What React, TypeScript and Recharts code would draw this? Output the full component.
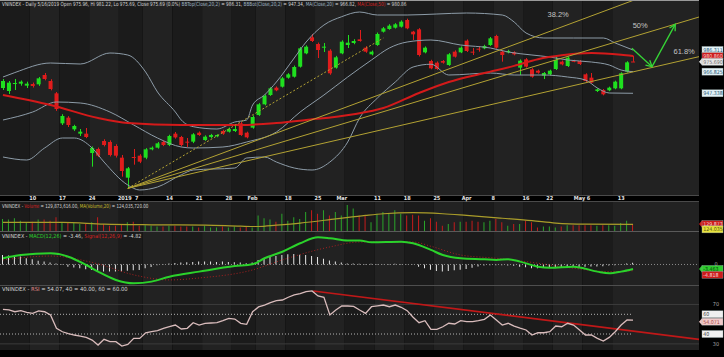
import React from "react";
import {
  ComposedChart,
  Bar,
  Line,
  XAxis,
  YAxis,
  ReferenceLine,
  ReferenceArea,
  ReferenceDot,
  Cell,
} from "recharts";

// ---- data ----

// open, high, low, close per session (Dec 2018 - 16 May 2019)
const OHLC: [number, number, number, number][] = [
  [952.1, 960.2, 950.3, 958.4], [949.4, 958.4, 946.7, 956.9], [955.7, 960.2, 950.3, 956.6], [956.0, 958.9, 954.2, 957.8],
  [954.2, 957.8, 952.1, 956.0], [955.7, 957.0, 952.5, 953.9], [955.4, 962.0, 954.0, 960.8], [963.8, 965.6, 959.0, 960.2],
  [958.4, 960.0, 950.0, 951.2], [947.3, 948.5, 931.5, 933.2], [920.3, 928.5, 918.8, 926.9], [925.4, 926.8, 917.0, 918.8],
  [914.9, 919.0, 913.5, 917.9], [911.0, 915.2, 908.9, 912.8], [911.0, 916.1, 907.0, 908.0], [893.6, 899.5, 881.3, 898.1],
  [897.2, 898.5, 890.0, 891.2], [904.4, 906.0, 899.5, 900.8], [903.5, 905.0, 890.5, 891.8], [899.9, 901.5, 889.5, 891.2],
  [889.4, 891.8, 872.3, 877.4], [871.4, 881.0, 861.8, 879.8], [890.0, 897.2, 883.1, 889.1], [891.2, 892.5, 884.5, 885.8],
  [889.4, 898.0, 888.0, 896.9], [896.9, 899.5, 896.0, 898.4], [898.4, 903.5, 897.5, 902.3], [903.5, 905.0, 899.8, 900.8],
  [900.8, 910.0, 899.8, 908.9], [911.0, 912.5, 906.5, 907.6], [908.0, 909.0, 899.5, 900.8], [903.8, 907.1, 899.0, 902.9],
  [903.8, 911.5, 902.5, 910.4], [911.9, 913.0, 909.0, 909.8], [905.3, 909.5, 904.5, 908.3], [908.0, 910.8, 907.0, 909.8],
  [908.6, 910.5, 907.8, 909.8], [913.4, 914.5, 910.0, 911.0], [912.8, 916.5, 912.0, 915.2], [913.4, 918.8, 912.5, 915.2],
  [920.3, 921.5, 909.0, 909.8], [911.9, 912.8, 906.8, 907.7], [916.4, 927.5, 915.5, 926.0], [927.8, 938.5, 927.0, 937.4],
  [937.4, 946.2, 936.5, 945.2], [945.8, 952.8, 945.0, 951.8], [952.4, 953.5, 949.2, 950.0], [953.3, 962.0, 952.5, 960.8],
  [961.4, 965.5, 960.5, 964.4], [962.3, 972.3, 961.5, 971.0], [971.3, 989.0, 970.5, 987.8], [983.3, 990.5, 982.5, 989.3],
  [997.7, 1000.7, 993.5, 994.4], [991.7, 993.0, 979.1, 986.3], [988.7, 992.6, 984.5, 989.3], [985.7, 987.0, 964.0, 965.3],
  [970.4, 981.0, 969.5, 979.7], [983.3, 995.0, 982.5, 993.8], [990.8, 999.8, 988.1, 992.9], [992.6, 996.0, 991.5, 994.4],
  [995.9, 1004.3, 993.8, 994.4], [988.4, 989.8, 983.8, 984.8], [982.4, 985.8, 981.5, 984.8], [990.8, 1002.0, 990.0, 1000.7],
  [1002.8, 1007.0, 1002.0, 1005.8], [1005.2, 1009.5, 1004.5, 1008.2], [1006.4, 1010.5, 1005.6, 1009.4], [1007.3, 1013.0, 1006.5, 1011.8],
  [1013.3, 1014.5, 1005.0, 1005.8], [1002.8, 1003.5, 995.3, 1000.4], [1004.9, 1006.0, 980.5, 981.8], [984.2, 989.5, 983.3, 988.4],
  [976.4, 977.5, 969.0, 969.8], [974.9, 976.0, 968.4, 969.2], [976.4, 977.3, 974.0, 974.9], [972.8, 983.5, 972.0, 982.4],
  [984.8, 986.0, 979.5, 980.3], [984.2, 989.5, 983.5, 988.4], [994.7, 995.8, 984.5, 985.4], [984.8, 988.1, 981.8, 984.2],
  [987.5, 989.3, 984.8, 986.9], [987.8, 991.0, 987.0, 989.9], [990.8, 998.0, 990.0, 996.8], [998.9, 1000.0, 987.5, 988.4],
  [984.8, 985.7, 975.8, 981.8], [984.2, 986.5, 983.3, 985.4], [984.2, 985.2, 981.5, 982.4], [970.4, 977.8, 963.8, 976.7],
  [977.9, 979.0, 970.5, 971.3], [968.9, 970.0, 961.4, 962.3], [967.7, 968.6, 965.0, 965.9], [963.2, 966.5, 960.2, 965.6],
  [964.4, 968.6, 963.5, 967.7], [969.2, 980.0, 968.3, 977.3], [975.8, 976.8, 972.5, 973.4], [971.9, 980.5, 971.0, 979.4],
  [976.6, 977.5, 975.3, 976.0], [976.4, 977.3, 972.8, 973.7], [964.4, 965.3, 957.5, 958.4], [961.4, 965.6, 956.0, 956.9],
  [949.4, 951.8, 948.5, 950.9], [950.3, 951.2, 945.5, 946.4], [950.0, 953.3, 949.2, 952.4], [951.8, 958.7, 951.0, 957.8],
  [951.8, 966.2, 951.0, 965.3], [966.8, 976.2, 966.0, 975.2], [975.96, 981.22, 975.69, 975.69],
];

// volume, millions of shares
const VOLUME = [
  226, 213, 239, 194, 162, 174, 213, 213, 194, 259, 162, 162, 149, 129, 129, 162, 259, 129, 97, 97,
  129, 162, 174, 97, 110, 97, 84, 84, 97, 97, 84, 84, 84, 65, 97, 65, 65, 84, 65, 84,
  65, 84, 65, 291, 239, 213, 174, 323, 194, 259, 226, 356, 388, 323, 388, 291, 356, 291, 485, 420,
  291, 291, 162, 323, 356, 323, 388, 323, 291, 304, 291, 194, 239, 174, 97, 129, 162, 174, 174, 194,
  174, 162, 194, 226, 162, 97, 129, 129, 194, 162, 65, 84, 84, 65, 84, 110, 110, 110, 110, 110,
  97, 110, 110, 97, 149, 194, 129.87,
];

const MACD_HIST = [
  7.3, 7.0, 7.3, 6.1, 4.8, 4.0, 2.9, 2.2, 1.6, 0.8, 0.3, -1.7, -2.3, -2.9, -3.7, -4.2, -4.8, -5.5, -5.5, -5.5,
  -5.5, -4.8, -4.5, -4.2, -2.9, -2.0, -0.5, 0.3, 0.8, 1.2, 1.5, 1.8, 2.0, 2.2, 2.2, 2.2, 2.0, 2.2, 2.0, 1.8,
  1.5, 1.0, 1.5, 3.5, 4.8, 6.0, 6.6, 7.3, 7.8, 8.0, 7.5, 7.3, 6.6, 5.8, 4.5, 3.0, 2.2, 1.6, 0.8, 0.8,
  0.5, 0.3, 0.5, 0.3, 0.2, 0.3, 0.5, 0.3, 0.2, 0.1, -1.7, -3.0, -4.0, -5.0, -5.5, -5.0, -4.5, -4.0, -3.5, -2.5,
  -1.5, -0.8, -0.6, -0.6, -0.6, -0.8, -1.0, -1.7, -2.1, -2.9, -2.9, -2.5, -2.1, -1.9, -1.9, -2.1, -1.9, -1.9, -1.7, -1.5,
  -1.5, -1.3, -0.8, -0.5, 0.2, 0.8, 1.36,
];

const RSI = [
  65.1, 64.4, 62.6, 63.7, 62.0, 61.0, 63.4, 62.6, 59.3, 45.8, 42.3, 40.5, 39.0, 37.8, 36.5, 33.9, 28.8, 34.6, 32.2, 32.2,
  27.8, 29.5, 35.6, 35.6, 41.3, 42.5, 43.4, 45.8, 47.4, 49.1, 45.1, 45.8, 51.5, 49.1, 50.9, 51.2, 51.5, 53.5, 55.9, 55.2,
  50.9, 49.8, 62.6, 67.5, 69.4, 71.8, 73.8, 74.5, 77.3, 79.6, 81.0, 82.9, 83.7, 78.6, 77.3, 59.3, 64.4, 68.4, 68.4, 68.0,
  64.4, 61.0, 67.7, 68.5, 69.4, 67.7, 69.4, 67.1, 63.7, 57.0, 51.5, 53.5, 44.8, 44.8, 47.4, 50.9, 50.2, 53.5, 52.5, 52.5,
  53.5, 54.9, 59.3, 54.2, 49.1, 50.9, 48.1, 46.0, 44.1, 39.0, 41.3, 41.3, 42.3, 48.1, 47.4, 50.9, 49.1, 44.1, 39.0, 39.0,
  35.6, 32.9, 36.6, 42.3, 49.1, 54.2, 54.07,
];

// [session index, value] readings along the smooth indicator curves
const BB_UPPER = [
  [0, 962], [2, 966], [8, 974.6], [13, 973.7], [18, 983.6], [21, 981.8], [24, 966.5], [26, 948.5], [29, 930.5], [30, 923.3],
  [32, 917.3], [36, 915.2], [39, 921.5], [41, 923.3], [42, 936.8], [44, 945.8], [46, 957.5], [49, 979.1], [51, 993.5], [54, 1008.8],
  [57, 1016.3], [60, 1020.5], [63, 1017.8], [68, 1017.8], [73, 1018.7], [78, 1019.6], [84, 1017.8], [86, 1011.5], [88, 1001.6],
  [91, 997.1], [96, 997.1], [101, 997.1], [103, 992.6], [106, 986.31],
];
const BB_MID = [
  [0, 923.3], [5, 930.5], [9, 939.5], [13, 938.6], [18, 930.5], [22, 918.8], [26, 907.1], [30, 899.0], [32, 898.1], [37, 899.0],
  [41, 903.5], [46, 912.5], [50, 930.5], [54, 945.8], [58, 962.0], [62, 977.3], [65, 988.1], [68, 993.5], [72, 995.3], [77, 990.8],
  [82, 988.1], [85, 984.5], [89, 981.8], [92, 980.0], [95, 977.3], [99, 975.5], [102, 972.8], [104, 968.3], [106, 966.82],
];
const BB_LOWER = [
  [0, 890.0], [4, 887.3], [7, 898.1], [10, 907.1], [12, 907.1], [15, 898.1], [17, 885.5], [21, 864.8], [23, 860.3], [26, 863.0],
  [30, 874.0], [32, 878.3], [39, 880.1], [41, 889.1], [44, 890.0], [46, 885.5], [49, 880.1], [52, 878.3], [55, 885.5], [58, 903.5],
  [60, 925.1], [63, 943.1], [66, 957.5], [69, 971.0], [72, 973.5], [75, 963.8], [82, 965.6], [86, 963.8], [91, 963.8], [95, 962.0],
  [98, 959.3], [100, 952.1], [102, 947.6], [106, 947.34],
];
const MA50 = [
  [0, 945.8], [8, 936.8], [16, 925.1], [21, 920.6], [30, 918.8], [40, 918.8], [46, 920.6], [51, 923.3], [59, 928.5], [64, 934.1],
  [70, 947.6], [75, 957.5], [81, 965.6], [86, 972.0], [90, 978.0], [94, 981.5], [99, 983.5], [104, 982.0], [106, 980.86],
];
const VOL_MA = [
  [0, 162], [10, 160], [17, 129], [25, 116], [34, 110], [40, 90], [43, 84], [46, 110], [50, 149], [56, 226],
  [61, 291], [64, 323], [69, 343], [74, 323], [78, 291], [84, 239], [89, 194], [93, 149], [98, 129], [106, 124.04],
];
const MACD_LINE = [
  [0, 4.8], [3, 7.3], [8, 8.6], [11, 6.0], [14, -0.4], [16, -5.5], [19, -11.9], [22, -14.5], [25, -13.2], [28, -9.4],
  [33, -5.5], [39, -1.2], [42, 0.2], [44, 4.8], [47, 9.8], [50, 16.3], [53, 20.9], [55, 20.2], [58, 18.5], [60, 18.5],
  [62, 17.1], [67, 17.5], [69, 16.3], [72, 11.2], [74, 7.3], [77, 4.8], [81, 4.0], [83, 3.5], [85, 4.0], [87, 2.2],
  [90, -1.7], [92, -2.5], [96, -1.7], [100, -5.5], [102, -6.8], [104, -5.5], [106, -3.46],
];
const MACD_SIGNAL = [
  [0, 3.5], [8, 6.5], [16, 0.4], [22, -8.0], [28, -11.9], [33, -10.4], [42, -4.2], [47, 3.5], [55, 13.5], [60, 17.3],
  [69, 17.3], [72, 14.0], [77, 7.3], [83, 4.8], [88, 2.2], [96, -2.9], [102, -5.5], [106, -4.82],
];

// date axis
const DATE_TICKS = [5, 10, 15, 20.5, 22.5, 28, 33, 38, 42, 48, 53, 57, 63, 68, 73, 78, 82.5, 88, 92, 97, 98.5, 104];
const DATE_LABELS = ["10", "17", "24", "2019", "7", "14", "21", "28", "Feb", "18", "25", "Mar", "11", "18", "25", "Apr", "8", "16", "22", "May", "6", "13"];
const WEEK_EDGES = [-0.5, 4.5, 9.5, 14.5, 19.5, 23.5, 28.5, 33.5, 38.5, 42.5, 47.5, 52.5, 57.5, 62.5, 67.5, 72.5, 77.5, 82.5, 87.5, 92.5, 97.5, 102.5, 117.1];

// fan drawn from the January low
const FAN_ORIGIN = [21, 861.8];
const FAN_ENDS = [[117.1, 1053.0], [117.1, 1016.0], [117.1, 980.3]];
const FAN_DOTTED_END = [64, 997.1];
const FAN_LABELS = ["38.2%", "50%", "61.8%"];
const FAN_LABEL_AT = [[93.4, 1018.4], [107.2, 1008.2], [114.6, 984.8]];
const ARROW_PATH = [[105.8, 987.8], [109.2, 971.3], [113.1, 1009.4]];
const RSI_TREND = [[52.2, 83.7], [117.1, 34.6]];

// right-edge value tags
const PRICE_TAGS = [986.311, 980.86, 975.69, 966.825, 947.338];
const PRICE_TAG_TEXT = ["986.311", "980.860", "975.690", "966.825", "947.338"];
const VOL_TAGS = [129.87, 124.04];
const VOL_TAG_TEXT = ["129.873", "124.035"];
const MACD_TAGS = [0, -3.46, -4.82];
const MACD_TAG_TEXT = ["0", "-3.463", "-4.818"];
const RSI_TAGS = [70, 60, 54.07, 40, 30];
const RSI_TAG_TEXT = ["70", "60", "54.071", "40", "30"];

// ---- styling ----
const W = 724;
const AXIS_W = 25;
const X_DOMAIN: [number, number] = [-0.5, 117.1];
const X_END = 117.1;
const GREEN = "#1fe01f";
const RED = "#e01c1c";
const PANEL = "#1b1b1b";
const PANEL_ALT = "#222222";
const BAND_LINE = "#8d9ca8";
const FAN = "#b3a233";
const TXT = "#d4d4d4";
const FONT = '"Liberation Sans Narrow", "DejaVu Sans Condensed", Arial, sans-serif';

const TAG_STYLE: Record<string, { bg: string; fg: string; arrow: boolean; dy: number }> = {
  band: { bg: "#e2f1f6", fg: "#2b5b78", arrow: false, dy: 0 },
  ma50: { bg: "#cc1b1b", fg: "#f4c4c4", arrow: false, dy: 0 },
  last: { bg: "#e6e6e6", fg: "#707070", arrow: true, dy: 0 },
  vol: { bg: "#cc1b1b", fg: "#f6d0d0", arrow: true, dy: 0 },
  volma: { bg: "#e8e23a", fg: "#505010", arrow: false, dy: 5 },
  macd: { bg: "#2ecc2e", fg: "#0b3d0b", arrow: true, dy: 0 },
  signal: { bg: "#cc1b1b", fg: "#f6d0d0", arrow: false, dy: 4 },
  level: { bg: "#f0f0f0", fg: "#404040", arrow: false, dy: 0 },
  rsi: { bg: "#f2c9c9", fg: "#a04848", arrow: true, dy: 1.5 },
  plain: { bg: "none", fg: "#a8a8a8", arrow: false, dy: 0 },
};
const PRICE_TAG_KIND = ["band", "ma50", "last", "band", "band"];
const VOL_TAG_KIND = ["vol", "volma"];
const MACD_TAG_KIND = ["plain", "macd", "signal"];
const RSI_TAG_KIND = ["plain", "level", "rsi", "level", "plain"];

const rows = OHLC.map(([open, high, low, close], i) => ({
  i,
  open,
  high,
  low,
  close,
  range: [low, high],
  vol: VOLUME[i],
  hist: MACD_HIST[i],
  rsi: RSI[i],
}));
const pts = (a: number[][]) => a.map(([i, v]) => ({ i, v }));

function Candle(props: any) {
  const { x, y, width, height, payload } = props;
  if (!payload || height == null) return null;
  const { open, high, low, close } = payload;
  const color = close >= open ? GREEN : RED;
  const k = high > low ? height / (high - low) : 0;
  const yo = y + (high - open) * k;
  const yc = y + (high - close) * k;
  const mid = Math.round(x + width / 2) + 0.5;
  return (
    <g>
      <line x1={mid} x2={mid} y1={y} y2={y + height} stroke={color} strokeWidth={1} />
      <rect x={x} y={Math.min(yo, yc)} width={width} height={Math.max(1, Math.abs(yo - yc))} fill={color} />
    </g>
  );
}

function Arrow(props: any) {
  const { x1, y1, x2, y2 } = props;
  const a = Math.atan2(y2 - y1, x2 - x1);
  const L = 6;
  const S = 3.2;
  const p1 = [x2 - L * Math.cos(a) + S * Math.sin(a), y2 - L * Math.sin(a) - S * Math.cos(a)];
  const p2 = [x2 - L * Math.cos(a) - S * Math.sin(a), y2 - L * Math.sin(a) + S * Math.cos(a)];
  return (
    <g stroke="#36d636" strokeWidth={1.3} fill="none">
      <line x1={x1} y1={y1} x2={x2} y2={y2} />
      <polyline points={`${p1[0]},${p1[1]} ${x2},${y2} ${p2[0]},${p2[1]}`} />
    </g>
  );
}

function Tag({ cx, cy, text, kind }: { cx: number; cy: number; text: string; kind: string }) {
  const s = TAG_STYLE[kind];
  const y = cy + s.dy;
  const x0 = cx + 3;
  if (s.bg === "none") {
    return (
      <text x={x0 + 14} y={y + 2} fontSize={5.5} fill={s.fg} fontFamily={FONT} textAnchor="middle">
        {text}
      </text>
    );
  }
  return (
    <g>
      {s.arrow && <polygon points={`${cx},${y} ${x0},${y - 3.5} ${x0},${y + 3.5}`} fill={s.bg} />}
      <rect x={x0} y={y - 3.5} width={21} height={7} fill={s.bg} stroke="#9aa" strokeWidth={0.4} />
      <text x={x0 + 1.2} y={y + 2} fontSize={5.3} fill={s.fg} fontFamily={FONT}>
        {text}
      </text>
    </g>
  );
}

const bands = WEEK_EDGES.slice(0, -1).map((x1, k) => ({ x1, x2: WEEK_EDGES[k + 1], fill: k % 2 ? PANEL_ALT : PANEL }));

function renderBands(prefix: string) {
  return bands.map((b, k) => (
    <ReferenceArea key={`${prefix}-band-${k}`} x1={b.x1} x2={b.x2} fill={b.fill} fillOpacity={1} stroke="none" ifOverflow="hidden" />
  ));
}

function renderTags(prefix: string, values: number[], texts: string[], kinds: string[]) {
  return values.map((v, k) => (
    <ReferenceDot
      key={`${prefix}-tag-${k}`}
      x={X_END}
      y={v}
      ifOverflow="visible"
      shape={(p: any) => <Tag cx={p.cx} cy={p.cy} text={texts[k]} kind={kinds[k]} />}
    />
  ));
}

const dateLabel = (v: number) => {
  const k = DATE_TICKS.indexOf(v);
  return k >= 0 ? DATE_LABELS[k] : "";
};

function Title({ x, y, sx, children }: { x: number; y: number; sx: number; children: React.ReactNode }) {
  return (
    <g transform={`translate(${x},${y}) scale(${sx},1)`}>
      <text x={0} y={0} fontFamily={FONT} fontSize={5.6} fill={TXT}>
        {children}
      </text>
    </g>
  );
}

export default function App() {
  const margin = { top: 0, right: AXIS_W, bottom: 0, left: 0 };
  const lineProps = { dot: false, activeDot: false, isAnimationActive: false };
  return (
    <div style={{ position: "absolute", left: 0, top: 0, width: W, height: 357, background: "#000", overflow: "hidden" }}>
      {/* date strip */}
      <div style={{ position: "absolute", left: 0, top: 195, width: 699, height: 5, borderTop: "1px solid #4a4a4a", borderBottom: "1px solid #4a4a4a" }} />
      <div style={{ position: "absolute", left: 0, top: 231, width: 699, height: 1, background: "#5a5a5a" }} />
      <div style={{ position: "absolute", left: 0, top: 285, width: 699, height: 1, background: "#4e4e4e" }} />

      {/* price panel */}
      <div style={{ position: "absolute", left: 0, top: 0 }}>
        <ComposedChart width={W} height={202} data={rows} margin={margin}>
          <XAxis
            dataKey="i"
            type="number"
            domain={X_DOMAIN}
            allowDataOverflow
            ticks={DATE_TICKS}
            interval={0}
            tickFormatter={dateLabel}
            height={7}
            tickSize={0}
            tickMargin={1}
            tickLine={false}
            axisLine={false}
            tick={{ fontSize: 5.5, fill: "#e4e4e4", fontFamily: FONT, fontWeight: 700 }}
          />
          <YAxis type="number" domain={[855.8, 1031.3]} allowDataOverflow hide />
          {renderBands("p")}
          <Line data={pts(BB_UPPER)} dataKey="v" type="monotone" stroke={BAND_LINE} strokeWidth={1} {...lineProps} />
          <Line data={pts(BB_MID)} dataKey="v" type="monotone" stroke={BAND_LINE} strokeWidth={1} {...lineProps} />
          <Line data={pts(BB_LOWER)} dataKey="v" type="monotone" stroke={BAND_LINE} strokeWidth={1} {...lineProps} />
          <Line data={pts(MA50)} dataKey="v" type="monotone" stroke="#d41a1a" strokeWidth={2} {...lineProps} />
          {FAN_ENDS.map((e, k) => (
            <ReferenceLine
              key={`fan-${k}`}
              segment={[{ x: FAN_ORIGIN[0], y: FAN_ORIGIN[1] }, { x: e[0], y: e[1] }]}
              stroke={FAN}
              strokeWidth={1}
              ifOverflow="hidden"
            />
          ))}
          <ReferenceLine
            segment={[{ x: FAN_ORIGIN[0], y: FAN_ORIGIN[1] }, { x: FAN_DOTTED_END[0], y: FAN_DOTTED_END[1] }]}
            stroke={FAN}
            strokeDasharray="2 2"
            ifOverflow="hidden"
          />
          <Bar dataKey="range" barSize={4} shape={<Candle />} isAnimationActive={false} activeBar={false} />
          {ARROW_PATH.slice(0, -1).map((p, k) => (
            <ReferenceLine
              key={`arrow-${k}`}
              segment={[{ x: p[0], y: p[1] }, { x: ARROW_PATH[k + 1][0], y: ARROW_PATH[k + 1][1] }]}
              ifOverflow="visible"
              shape={(lp: any) => <Arrow {...lp} />}
            />
          ))}
          {FAN_LABELS.map((t, k) => (
            <ReferenceDot
              key={`fanlabel-${k}`}
              x={FAN_LABEL_AT[k][0]}
              y={FAN_LABEL_AT[k][1]}
              ifOverflow="visible"
              shape={(p: any) => (
                <text x={p.cx} y={p.cy + 2.5} fontSize={7.5} fill="#c4c4c4" textAnchor="middle" fontFamily="Arial, sans-serif">
                  {t}
                </text>
              )}
            />
          ))}
          {renderTags("p", PRICE_TAGS, PRICE_TAG_TEXT, PRICE_TAG_KIND)}
        </ComposedChart>
      </div>

      {/* volume panel (svg 2px taller than the plot so the lower tag fits) */}
      <div style={{ position: "absolute", left: 0, top: 202 }}>
        <ComposedChart width={W} height={32} data={rows} margin={{ ...margin, bottom: 3 }}>
          <XAxis dataKey="i" type="number" domain={X_DOMAIN} allowDataOverflow hide />
          <YAxis type="number" domain={[0, 543]} allowDataOverflow hide />
          {renderBands("v")}
          <Bar dataKey="vol" barSize={1} isAnimationActive={false} activeBar={false}>
            {rows.map((r) => (
              <Cell key={`vc-${r.i}`} fill={r.close >= r.open ? "#2aa52a" : "#c41c1c"} />
            ))}
          </Bar>
          <Line data={pts(VOL_MA)} dataKey="v" type="monotone" stroke="#aa9d2a" strokeWidth={1.2} {...lineProps} />
          {renderTags("v", VOL_TAGS, VOL_TAG_TEXT, VOL_TAG_KIND)}
        </ComposedChart>
      </div>

      {/* MACD panel */}
      <div style={{ position: "absolute", left: 0, top: 232 }}>
        <ComposedChart width={W} height={53} data={rows} margin={margin}>
          <XAxis dataKey="i" type="number" domain={X_DOMAIN} allowDataOverflow hide />
          <YAxis type="number" domain={[-15.8, 25]} allowDataOverflow hide />
          {renderBands("m")}
          <ReferenceLine y={0} stroke="#8a8a8a" strokeDasharray="1 2" />
          <Bar dataKey="hist" barSize={1} fill="#e6e6e6" isAnimationActive={false} activeBar={false} />
          <Line data={pts(MACD_SIGNAL)} dataKey="v" type="monotone" stroke="#a82020" strokeWidth={1} strokeDasharray="1 2" {...lineProps} />
          <Line data={pts(MACD_LINE)} dataKey="v" type="monotone" stroke="#2bd22b" strokeWidth={2} {...lineProps} />
          {renderTags("m", MACD_TAGS, MACD_TAG_TEXT, MACD_TAG_KIND)}
        </ComposedChart>
      </div>

      {/* RSI panel */}
      <div style={{ position: "absolute", left: 0, top: 286 }}>
        <ComposedChart width={W} height={64} data={rows} margin={margin}>
          <XAxis dataKey="i" type="number" domain={X_DOMAIN} allowDataOverflow hide />
          <YAxis type="number" domain={[23.8, 88.7]} allowDataOverflow hide />
          {renderBands("r")}
          <ReferenceLine y={70} stroke="#3c3c3c" />
          <ReferenceLine y={30} stroke="#3c3c3c" />
          <ReferenceLine segment={[{ x: -0.5, y: 60 }, { x: 106, y: 60 }]} stroke="#b4b4b4" strokeDasharray="1 2" />
          <ReferenceLine segment={[{ x: -0.5, y: 40 }, { x: 106, y: 40 }]} stroke="#b4b4b4" strokeDasharray="1 2" />
          <ReferenceLine
            segment={[{ x: RSI_TREND[0][0], y: RSI_TREND[0][1] }, { x: RSI_TREND[1][0], y: RSI_TREND[1][1] }]}
            stroke="#c01818"
            strokeWidth={1.6}
            ifOverflow="hidden"
          />
          <Line dataKey="rsi" type="linear" stroke="#d9bcbc" strokeWidth={1.3} {...lineProps} />
          {renderTags("r", RSI_TAGS, RSI_TAG_TEXT, RSI_TAG_KIND)}
        </ComposedChart>
      </div>

      {/* panel titles */}
      <svg width={W} height={357} style={{ position: "absolute", left: 0, top: 0, pointerEvents: "none" }}>
        <line x1={0} x2={699} y1={0.5} y2={0.5} stroke="#9a9a9a" />
        <Title x={2} y={6} sx={0.84}>
          <tspan>VNINDEX - Daily 5/16/2019 Open 975.96, Hi 981.22, Lo 975.69, Close 975.69 (0.0%) </tspan>
          <tspan fill="#9fb4c4">BBTop(Close,20,2)</tspan>
          <tspan> = 986.31, </tspan>
          <tspan fill="#9fb4c4">BBBot(Close,20,2)</tspan>
          <tspan> = 947.34, </tspan>
          <tspan fill="#9fb4c4">MA(Close,20)</tspan>
          <tspan> = 966.82, </tspan>
          <tspan fill="#d42020">MA(Close,50)</tspan>
          <tspan> = 980.86</tspan>
        </Title>
        <Title x={2} y={208} sx={0.8}>
          <tspan>VNINDEX - </tspan>
          <tspan fill="#d42020">Volume</tspan>
          <tspan> = 129,873,616.00, </tspan>
          <tspan fill="#c8bd2a">MA(Volume,20)</tspan>
          <tspan> = 124,035,720.00</tspan>
        </Title>
        <Title x={2} y={238} sx={0.97}>
          <tspan>VNINDEX - </tspan>
          <tspan fill="#2bd22b">MACD(12,26)</tspan>
          <tspan> = -3.46, </tspan>
          <tspan fill="#d42020">Signal(12,26,9)</tspan>
          <tspan> = -4.82</tspan>
        </Title>
        <Title x={2} y={291} sx={1.04}>
          <tspan>VNINDEX - </tspan>
          <tspan fill="#e08a8a">RSI</tspan>
          <tspan> = 54.07, 40 = 40.00, 60 = 60.00</tspan>
        </Title>
      </svg>
    </div>
  );
}
